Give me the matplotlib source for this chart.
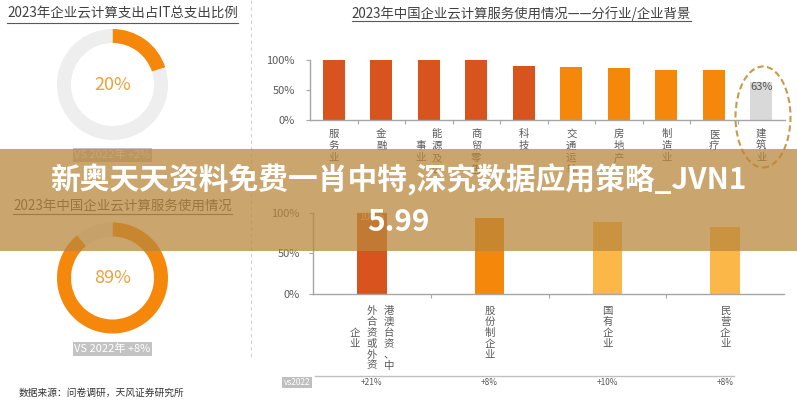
import matplotlib
matplotlib.use("Agg")
import matplotlib.pyplot as plt
import numpy as np
from matplotlib.patches import Rectangle, Ellipse
from matplotlib.lines import Line2D
from matplotlib import transforms

plt.rcParams['font.family'] = ['Noto Sans CJK SC', 'DejaVu Sans']

W, H = 797, 400

# ---- data ----
spend_title = "2023年企业云计算支出占IT总支出比例"
spend_share = 20
spend_delta = "VS 2022年 +2%"

usage_title = "2023年中国企业云计算服务使用情况"
usage_share = 89
usage_delta = "VS 2022年 +8%"

industry_title = "2023年中国企业云计算服务使用情况——分行业/企业背景"
industries = [["服务业"], ["金融"], ["能源及公", "事业"], ["商贸零售"], ["科技"],
              ["交通运输"], ["房地产"], ["制造业"], ["医疗"], ["建筑业"]]
industry_usage = [100, 100, 100, 100, 90, 88, 86, 82, 82, 63]
industry_colors = ["#d9531e"] * 5 + ["#f5870a"] * 4 + ["#d9d9d9"]

backgrounds = [["港澳台资、中", "外合资或外资", "企业"], ["股份制企业"], ["国有企业"], ["民营企业"]]
background_usage = [100, 94, 89, 83]
background_delta = ["+21%", "+8%", "+10%", "+8%"]
background_colors = ["#d9531e", "#f5870a", "#fbb848", "#fbb848"]

source = "数据来源：问卷调研，天风证券研究所"
banner = ["新奥天天资料免费一肖中特,深究数据应用策略_JVN1", "5.99"]

fig = plt.figure(figsize=(W / 100, H / 100), dpi=100)
fig.patch.set_facecolor('white')


def fx(x):
    return x / W


def fy(y):
    return 1 - y / H


def px_axes(x0, y0, x1, y1):
    return fig.add_axes([fx(x0), fy(y1), (x1 - x0) / W, (y1 - y0) / H])


def donut(cx, cy, share):
    ax = px_axes(cx - 60, cy - 60, cx + 60, cy + 60)
    ax.pie([share, 100 - share], colors=['#f5870a', '#eeeeee'], startangle=90,
           counterclock=False, radius=1,
           wedgeprops=dict(width=14 / 55.5, edgecolor='none'))
    lim = 60 / 55.5
    ax.set_xlim(-lim, lim)
    ax.set_ylim(-lim, lim)
    ax.text(0, 0, f"{share}%", ha='center', va='center', fontsize=13, color='#eea03a')
    ax.axis('off')


def style_bars(ax, n, pad):
    for s in ['top', 'right']:
        ax.spines[s].set_visible(False)
    for s in ['left', 'bottom']:
        ax.spines[s].set_color('#a6a6a6')
        ax.spines[s].set_linewidth(1)
    ax.set_xlim(-0.5, n - 0.5)
    ax.set_ylim(0, 100)
    ax.set_yticks([0, 50, 100])
    ax.set_yticklabels(['0%', '50%', '100%'])
    ax.tick_params(axis='y', length=3, color='#a6a6a6', labelsize=8,
                   labelcolor='#595959', pad=pad)
    ax.set_xticks(np.arange(0.5, n - 1, 1))
    ax.set_xticklabels([])
    ax.tick_params(axis='x', length=3, color='#a6a6a6')
    ax.patch.set_alpha(0)


def column_labels(ax, labels, top_y, pitch, col_gap, size):
    tr = transforms.blended_transform_factory(ax.transData, fig.transFigure)
    for i, cols in enumerate(labels):
        rows = max(len(c) for c in cols)
        n = len(cols)
        for j, col in enumerate(cols):
            dx = ((n - 1) / 2 - j) * col_gap
            off = (rows - len(col)) / 2
            t = transforms.offset_copy(tr, fig=fig, x=dx, y=0, units='dots')
            for k, ch in enumerate(col):
                ax.text(i, fy(top_y + (off + k) * pitch), ch, transform=t,
                        ha='center', va='center', fontsize=size, color='#595959')


# ---- left panel ----
titles = []
titles.append((fig.text(fx(7), fy(13.3), spend_title, ha='left', va='center',
                        fontsize=9.7, color='#404040'), 22.7))
donut(112.5, 84.5, spend_share)
fig.text(fx(112.5), fy(155), spend_delta, ha='center', va='center', fontsize=8,
         color='white', bbox=dict(facecolor='#c3c3c3', edgecolor='none', pad=1))

titles.append((fig.text(fx(13), fy(207), usage_title, ha='left', va='center',
                        fontsize=9.7, color='#404040'), 214))
donut(112.5, 278, usage_share)
fig.text(fx(112.5), fy(349), usage_delta, ha='center', va='center', fontsize=8,
         color='white', bbox=dict(facecolor='#c3c3c3', edgecolor='none', pad=1))

fig.text(fx(19), fy(393), source, ha='left', va='center', fontsize=7, color='#333333')

fig.add_artist(Line2D([fx(251), fx(251)], [fy(0), fy(357)], transform=fig.transFigure,
                      color='#d0d0d0', lw=0.8, linestyle=(0, (3, 3))))

# ---- industry bars ----
titles.append((fig.text(fx(521.5), fy(13.7), industry_title, ha='center', va='center',
                        fontsize=9.6, color='#404040'), 20.5))
ax1 = px_axes(310, 59.5, 785, 120)
b1 = ax1.bar(range(len(industry_usage)), industry_usage, width=0.46, color=industry_colors)
style_bars(ax1, len(industry_usage), 8)
lab1 = [''] * (len(industry_usage) - 1) + [f"{industry_usage[-1]}%"]
ax1.bar_label(b1, labels=lab1, padding=-7, fontsize=8, color='#555555')
column_labels(ax1, industries, 134, 12, 15.5, 7.5)
fig.add_artist(Ellipse((fx(763), fy(117)), 55 / W, 101 / H, transform=fig.transFigure,
                       fill=False, edgecolor='#c99a4a', lw=1.5,
                       linestyle=(0, (3, 1.6)), zorder=5))

# ---- background bars ----
ax2 = px_axes(313, 212.7, 784, 294)
b2 = ax2.bar(range(len(background_usage)), background_usage, width=0.25,
             color=background_colors)
style_bars(ax2, len(background_usage), 6.5)
lab2 = [f"{background_usage[0]}%"] + [''] * (len(background_usage) - 1)
ax2.bar_label(b2, labels=lab2, padding=-6.5, fontsize=7, color='#f6c9a0')
column_labels(ax2, backgrounds, 311, 10.9, 17, 7.5)

fig.add_artist(Line2D([fx(315), fx(734)], [fy(376.4), fy(376.4)], transform=fig.transFigure,
                      color='#bfbfbf', lw=1))
fig.text(fx(297), fy(382.5), "vs2022", ha='center', va='center', fontsize=6,
         color='white', bbox=dict(facecolor='#bfbfbf', edgecolor='none', pad=1))
tr2 = transforms.blended_transform_factory(ax2.transData, fig.transFigure)
for i, d in enumerate(background_delta):
    ax2.text(i, fy(382.5), d, transform=tr2, ha='center', va='center', fontsize=6,
             color='#555555')

# ---- title underlines ----
fig.canvas.draw()
for t, uy in titles:
    bb = t.get_window_extent()
    fig.add_artist(Line2D([bb.x0 / W, bb.x1 / W], [fy(uy), fy(uy)],
                          transform=fig.transFigure, color='#595959', lw=0.8))

# ---- overlay banner ----
fig.add_artist(Rectangle((0, fy(251)), 1, (251 - 149) / H, transform=fig.transFigure,
                         facecolor=(185 / 255, 135 / 255, 60 / 255), alpha=0.75,
                         edgecolor='none', zorder=10))
fig.text(0.5, fy(180), banner[0], ha='center', va='center', color='white',
         fontsize=21.4, fontweight='heavy', zorder=11)
fig.text(0.5, fy(222), banner[1], ha='center', va='center', color='white',
         fontsize=21.4, fontweight='heavy', zorder=11)

fig.savefig('out.png', dpi=100)
